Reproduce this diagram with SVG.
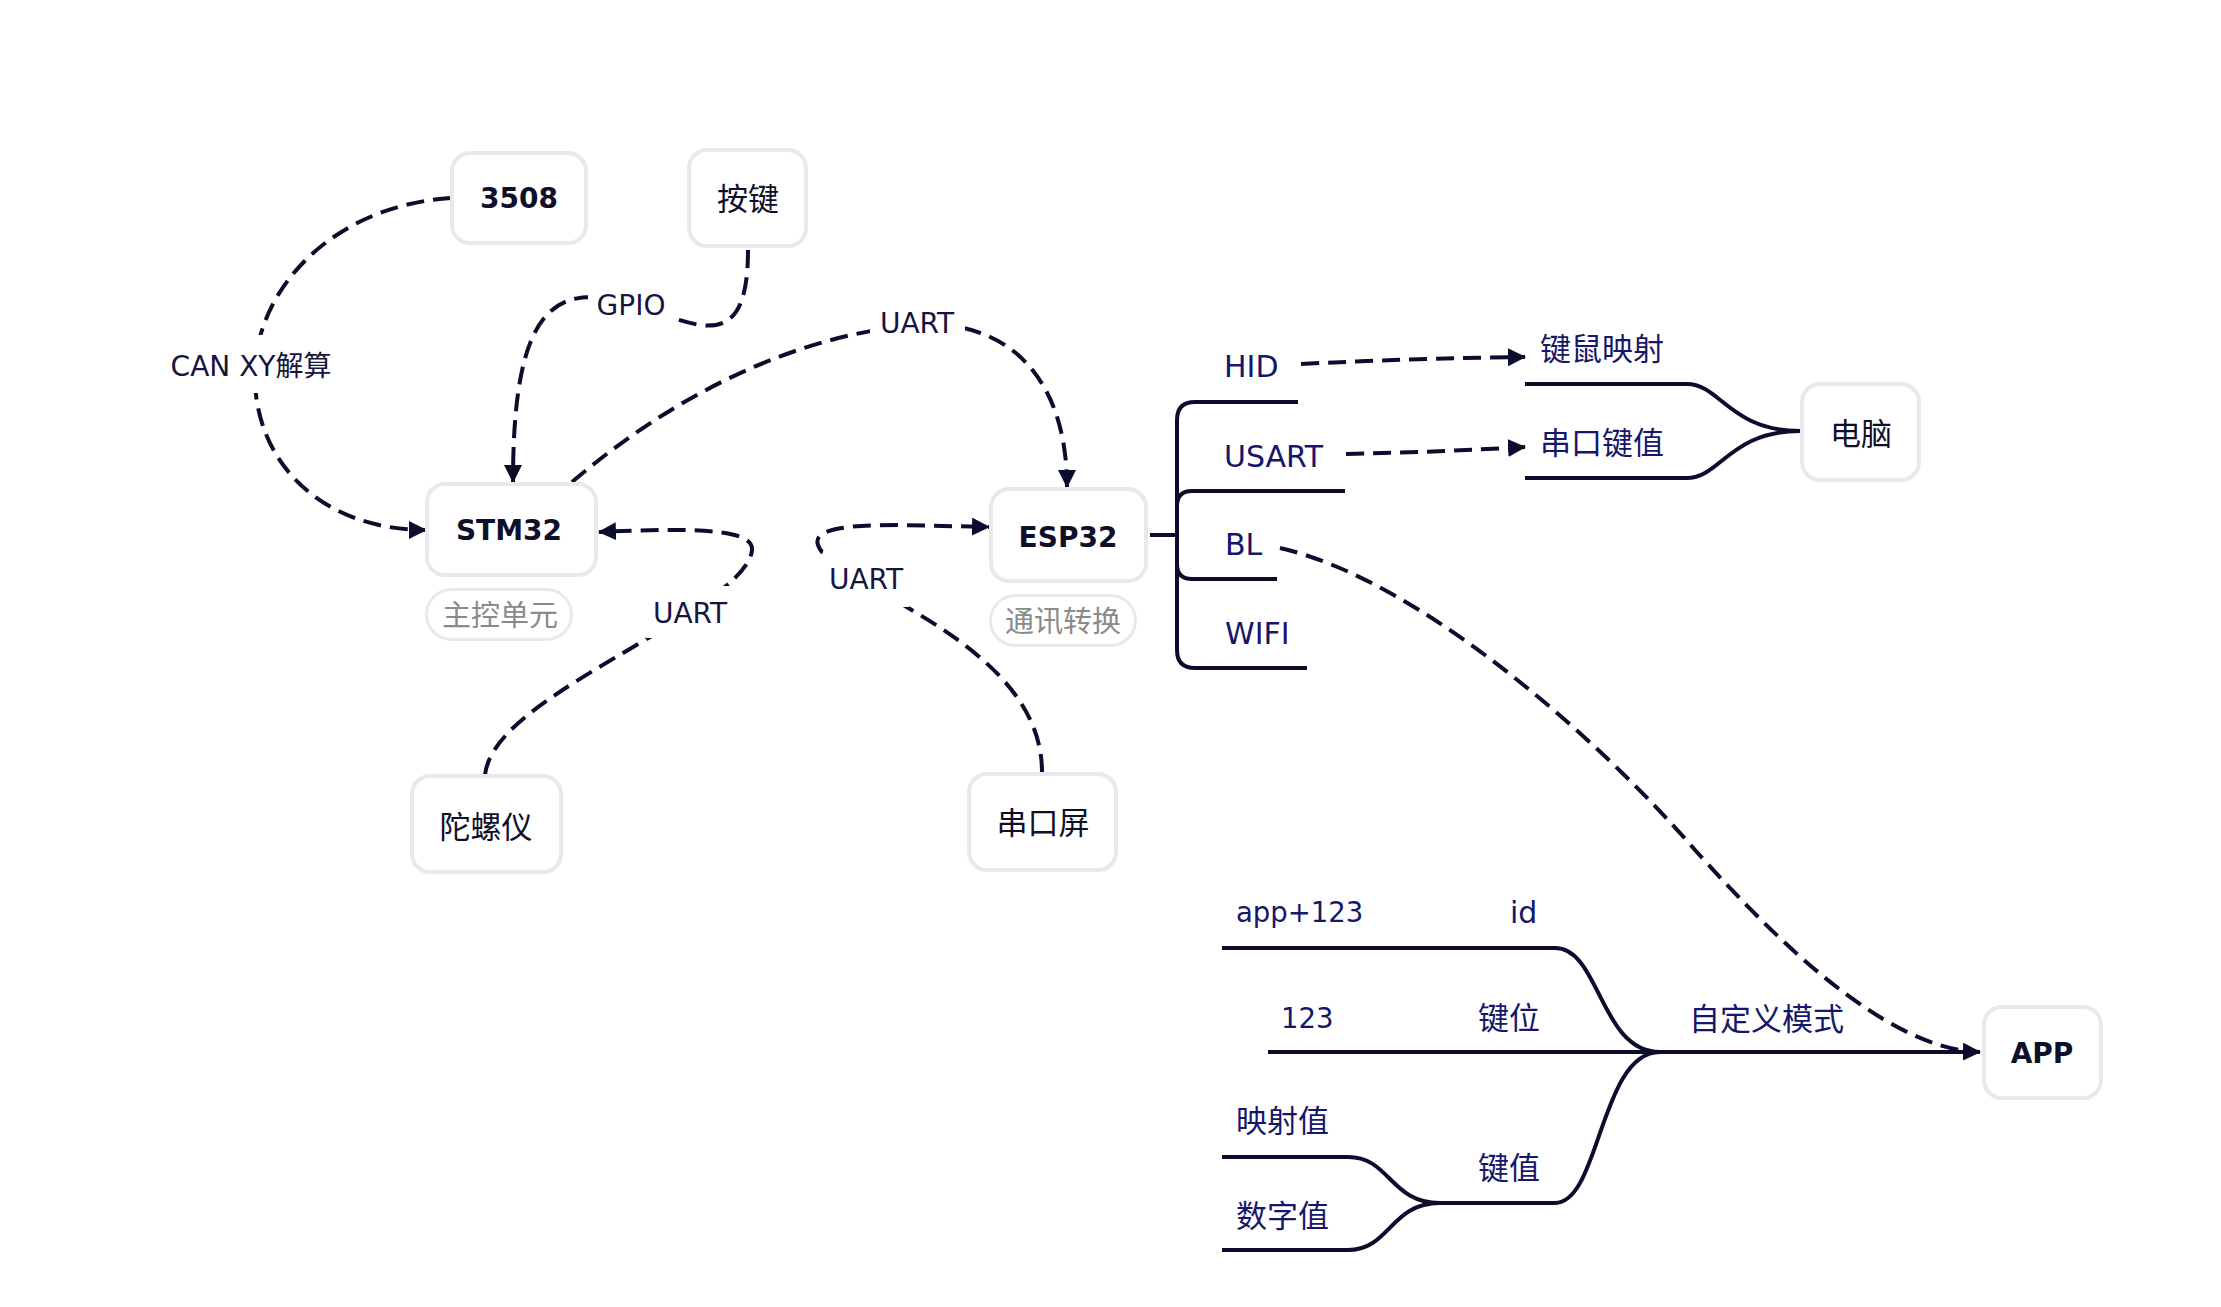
<svg xmlns="http://www.w3.org/2000/svg" width="2221" height="1307" viewBox="0 0 2221 1307">
<style>
text{font-family:"DejaVu Sans","Noto Sans CJK SC",sans-serif}
.box{fill:#fff;stroke:#e9e8ed;stroke-width:4}
.tag{fill:#fff;stroke:#e9e8ed;stroke-width:3}
.nt{font-size:31px;fill:#0f0f2a;text-anchor:middle}
.bt{font-size:28px;font-weight:700;fill:#0f0f2a;text-anchor:middle}
.tt{font-size:29px;fill:#8a8a8a;text-anchor:middle}
.lbl{font-size:28px;fill:#15153f;text-anchor:middle}
.br{font-size:30px;fill:#16166a}
.num{font-size:27.5px;fill:#16166a}
.brc{font-size:31px;fill:#16166a}
.dash{fill:none;stroke:#0c0c2c;stroke-width:4;stroke-dasharray:18 9}
.tree{fill:none;stroke:#0c0c2c;stroke-width:4}
.bg{fill:#fff}
</style>
<defs>
<marker id="arr" markerUnits="userSpaceOnUse" markerWidth="20" markerHeight="20" refX="17" refY="9" orient="auto">
<path d="M0,0 L18,9 L0,18 z" fill="#0c0c2c"/>
</marker>
</defs>
<rect width="2221" height="1307" fill="#fff"/>

<g id="connectors">
<path class="tree" d="M1150,535 L1177,535"/>
<path class="tree" d="M1177,535 L1177,420 Q1177,402 1195,402 L1298,402"/>
<path class="tree" d="M1177,535 L1177,506 Q1177,491 1192,491 L1345,491"/>
<path class="tree" d="M1177,535 L1177,564 Q1177,579 1192,579 L1277,579"/>
<path class="tree" d="M1177,535 L1177,650 Q1177,668 1195,668 L1307,668"/>
<path class="tree" d="M1525,384 L1687,384 C1720,384 1730,431 1800,431"/>
<path class="tree" d="M1525,478 L1687,478 C1720,478 1730,431 1800,431"/>
<path class="tree" d="M1222,948 L1555,948 C1600,948 1600,1052 1660,1052"/>
<path class="tree" d="M1268,1052 L1975,1052"/>
<path class="tree" d="M1440,1203 L1555,1203 C1600,1203 1600,1052 1660,1052"/>
<path class="tree" d="M1222,1157 L1348,1157 C1390,1157 1390,1203 1440,1203"/>
<path class="tree" d="M1222,1250 L1348,1250 C1390,1250 1390,1203 1440,1203"/>
<path class="dash" d="M451,198 C340,205 262,280 255,365 C250,460 320,530 426,530" marker-end="url(#arr)"/>
<path class="dash" d="M748,250 C748,305 735,330 700,325 C670,320 630,300 595,297 C540,295 513,340 513,482" marker-end="url(#arr)"/>
<path class="dash" d="M572,482 C680,390 800,335 915,325 C1010,318 1067,380 1067,487" marker-end="url(#arr)"/>
<path class="dash" d="M485,775 C490,730 560,690 645,640 C700,608 750,575 752,550 C754,528 690,528 599,532" marker-end="url(#arr)"/>
<path class="dash" d="M1042,772 C1042,700 980,650 910,609 C870,585 825,565 818,545 C812,528 850,525 900,525 L989,527" marker-end="url(#arr)"/>
<path class="dash" d="M1301,364 Q1420,358 1525,357" marker-end="url(#arr)"/>
<path class="dash" d="M1346,454 Q1440,452 1525,447" marker-end="url(#arr)"/>
<path class="dash" d="M1280,548 C1420,580 1600,740 1695,850 C1760,922 1880,1050 1980,1052" marker-end="url(#arr)"/>
<rect class="bg" x="160" y="335" width="186" height="58"/>
<text class="lbl" x="251" y="376">CAN XY解算</text>
<rect class="bg" x="588" y="287" width="88" height="38"/>
<text class="lbl" x="631" y="315">GPIO</text>
<rect class="bg" x="870" y="303" width="95" height="42"/>
<text class="lbl" x="917" y="333">UART</text>
<rect class="bg" x="646" y="586" width="86" height="52"/>
<text class="lbl" x="690" y="623">UART</text>
<rect class="bg" x="823" y="551" width="86" height="56"/>
<text class="lbl" x="866" y="589">UART</text>
</g>

<g id="n3508"><rect class="box" x="452" y="153" width="134" height="90" rx="18"/><text class="bt" x="519" y="208">3508</text></g>
<g id="nanjian"><rect class="box" x="689" y="150" width="117" height="96" rx="18"/><text class="nt" x="748" y="210">按键</text></g>
<g id="nstm32"><rect class="box" x="427" y="484" width="169" height="91" rx="18"/><text class="bt" x="509" y="540">STM32</text></g>
<g id="tstm32"><rect class="tag" x="426.5" y="589.5" width="145" height="50" rx="25"/><text class="tt" x="500" y="626">主控单元</text></g>
<g id="nesp32"><rect class="box" x="991" y="489" width="155" height="92" rx="18"/><text class="bt" x="1068" y="547">ESP32</text></g>
<g id="tesp32"><rect class="tag" x="990.5" y="595.5" width="145" height="50" rx="25"/><text class="tt" x="1063" y="632">通讯转换</text></g>
<g id="ntuoluoyi"><rect class="box" x="412" y="776" width="149" height="96" rx="18"/><text class="nt" x="486" y="838">陀螺仪</text></g>
<g id="nchuankouping"><rect class="box" x="969" y="774" width="147" height="96" rx="18"/><text class="nt" x="1043" y="834">串口屏</text></g>
<g id="ndiannao"><rect class="box" x="1802" y="384" width="117" height="96" rx="18"/><text class="nt" x="1861" y="445">电脑</text></g>
<g id="napp"><rect class="box" x="1984" y="1007" width="117" height="91" rx="18"/><text class="bt" x="2042" y="1063">APP</text></g>

<g id="b-hid"><text class="br" x="1224" y="377">HID</text></g>
<g id="b-usart"><text class="br" x="1224" y="467">USART</text></g>
<g id="b-bl"><text class="br" x="1225" y="555">BL</text></g>
<g id="b-wifi"><text class="br" x="1225" y="644">WIFI</text></g>
<g id="b-jianshu"><text class="brc" x="1540" y="360">键鼠映射</text></g>
<g id="b-chuankou"><text class="brc" x="1540" y="454">串口键值</text></g>
<g id="b-app123"><text class="num" x="1236" y="922">app+123</text></g>
<g id="b-id"><text class="br" x="1510" y="923">id</text></g>
<g id="b-123"><text class="num" x="1281" y="1028">123</text></g>
<g id="b-jianwei"><text class="brc" x="1478" y="1029">键位</text></g>
<g id="b-zidingyi"><text class="brc" x="1689" y="1030">自定义模式</text></g>
<g id="b-yingshe"><text class="brc" x="1236" y="1132">映射值</text></g>
<g id="b-jianzhi"><text class="brc" x="1478" y="1179">键值</text></g>
<g id="b-shuzi"><text class="brc" x="1236" y="1227">数字值</text></g>
</svg>
